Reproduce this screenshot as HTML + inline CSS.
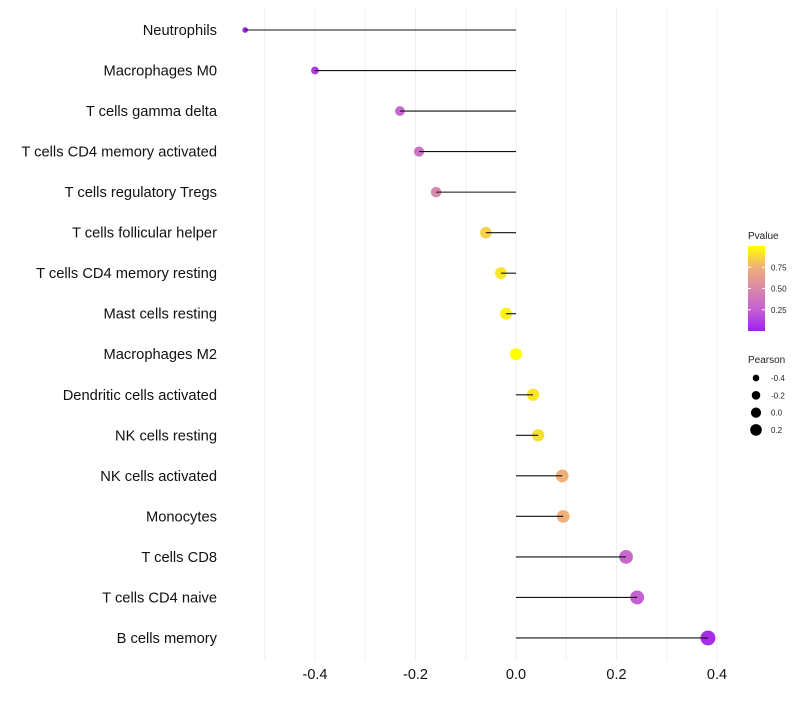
<!DOCTYPE html>
<html><head><meta charset="utf-8"><style>
body{margin:0;background:#fff;font-family:"Liberation Sans",sans-serif}
</style></head><body>
<svg id="c" width="800" height="700" xmlns="http://www.w3.org/2000/svg"></svg>
<script>
const categories=["Neutrophils","Macrophages M0","T cells gamma delta","T cells CD4 memory activated","T cells regulatory  Tregs","T cells follicular helper","T cells CD4 memory resting","Mast cells resting","Macrophages M2","Dendritic cells activated","NK cells resting","NK cells activated","Monocytes","T cells CD8","T cells CD4 naive","B cells memory"];
const pearson=[-0.539,-0.40,-0.231,-0.193,-0.159,-0.060,-0.030,-0.020,0.0,0.034,0.044,0.092,0.094,0.219,0.241,0.382];
const pvalue=[0.02,0.1,0.3,0.36,0.5,0.85,0.92,0.96,1.0,0.92,0.9,0.75,0.75,0.3,0.25,0.05];
const xTicks=[-0.4,-0.2,0.0,0.2,0.4];
const colorTicks=[0.25,0.5,0.75];
const sizeTicks=[-0.4,-0.2,0.0,0.2];
const svg=document.getElementById('c');const NS="http://www.w3.org/2000/svg";
function mk(t,a,p){const e=document.createElementNS(NS,t);for(const k in a)e.setAttribute(k,a[k]);(p||svg).appendChild(e);return e;}
const X=v=>516+v*502.5;
const Y=i=>30+i*40.53;
const R=v=>Math.sqrt(Math.max(1,36+52*v));
const stops=[[0,[160,32,240]],[0.25,[196,96,210]],[0.5,[216,136,168]],[0.75,[240,176,120]],[1,[255,255,0]]];
function col(p){for(let i=1;i<stops.length;i++){if(p<=stops[i][0]){const a=stops[i-1],b=stops[i];const t=(p-a[0])/(b[0]-a[0]);return `rgb(${a[1].map((x,k)=>Math.round(x+(b[1][k]-x)*t))})`;}}return 'rgb(255,255,0)';}
for(let k=-5;k<=4;k++){const v=k/10;const g=mk('line',{x1:X(v),x2:X(v),y1:8,y2:660,stroke:'#f0f0f0','stroke-width':1});

}
xTicks.forEach(t=>{const e=mk('text',{x:X(t),y:679,'text-anchor':'middle','font-size':14.5,fill:'#111'});e.textContent=t.toFixed(1);

});
categories.forEach((c,i)=>{
const l=mk('text',{x:217,y:Y(i)+5,'text-anchor':'end','font-size':14.7,fill:'#111'});l.textContent=c;


const p=mk('circle',{cx:X(pearson[i]),cy:Y(i),r:R(pearson[i]),fill:col(pvalue[i])});


const s=mk('line',{x1:X(0),x2:X(pearson[i]),y1:Y(i),y2:Y(i),stroke:'#111','stroke-width':1.1});


});
const defs=mk('defs',{});const gr=mk('linearGradient',{id:'g',x1:0,y1:1,x2:0,y2:0},defs);
stops.forEach(s=>mk('stop',{offset:s[0],'stop-color':col(s[0])},gr));
let t=mk('text',{x:748,y:239,'font-size':10,fill:'#222'});t.textContent='Pvalue';


const cb=mk('rect',{x:748,y:246,width:17,height:85,fill:'url(#g)'});


colorTicks.forEach(v=>{const y=331-v*85;mk('line',{x1:748,x2:751,y1:y,y2:y,stroke:'#fff'});mk('line',{x1:762,x2:765,y1:y,y2:y,stroke:'#fff'});
const e=mk('text',{x:771,y:y+3,'font-size':8,fill:'#222'});e.textContent=v.toFixed(2);

});
t=mk('text',{x:748,y:363,'font-size':10,fill:'#222'});t.textContent='Pearson';


sizeTicks.forEach((v,i)=>{const y=378+i*17.3;const c=mk('circle',{cx:756,cy:y,r:R(v)*0.85,fill:'#000'});


const e=mk('text',{x:771,y:y+3,'font-size':8,fill:'#222'});e.textContent=v.toFixed(1);

});
</script>
</body></html>
